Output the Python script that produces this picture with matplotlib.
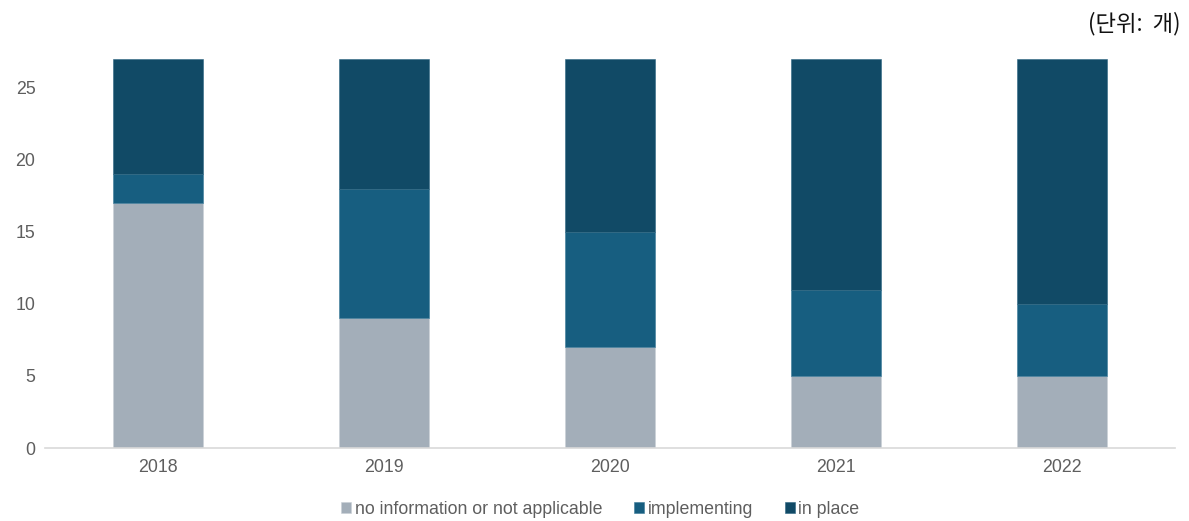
import numpy as np
import matplotlib.pyplot as plt

plt.rcParams['font.family'] = ['Liberation Sans', 'DejaVu Sans']

years = ['2018', '2019', '2020', '2021', '2022']
no_info = [17, 9, 7, 5, 5]
implementing = [2, 9, 8, 6, 5]
in_place = [8, 9, 12, 16, 17]

c_grey = '#A3AEB9'
c_impl = '#175E80'
c_place = '#114A66'

fig = plt.figure(figsize=(11.89, 5.21), dpi=100)
ax = fig.add_axes([0.038, 0.140, 0.950, 0.747])

x = np.arange(len(years))
w = 0.4
b1 = np.array(no_info)
b2 = b1 + np.array(implementing)
ax.bar(x, no_info, w, color=c_grey, edgecolor='#C9D0D6', linewidth=0.4, label='no information or not applicable')
ax.bar(x, implementing, w, bottom=b1, color=c_impl, edgecolor='#3C7A98', linewidth=0.4, label='implementing')
ax.bar(x, in_place, w, bottom=b2, color=c_place, edgecolor='#2E6682', linewidth=0.4, label='in place')

ax.set_xlim(-0.5, len(years) - 0.5)
ax.set_ylim(0, 27)
ax.set_yticks(range(0, 30, 5))
ax.set_xticks(x)
ax.set_xticklabels(years)
ax.tick_params(axis='both', length=0, colors='#5E5E5E', labelsize=12.8)
ax.tick_params(axis='x', pad=8)
ax.tick_params(axis='y', pad=7)
for s in ['top', 'right', 'left']:
    ax.spines[s].set_visible(False)
ax.spines['bottom'].set_color('#D9D9D9')
ax.spines['bottom'].set_linewidth(1.2)

leg = fig.legend(loc='center', bbox_to_anchor=(0.505, 0.022), ncol=3, frameon=False,
                 fontsize=12.8, handlelength=0.55, handleheight=0.55, handletextpad=0.2,
                 columnspacing=1.8)
for t in leg.get_texts():
    t.set_color('#5E5E5E')

fig.text(0.993, 0.955, '(단위:  개)', ha='right', va='center', fontsize=16,
         family=['Noto Sans CJK KR', 'DejaVu Sans'], color='#111111')

fig.savefig('out.png', dpi=100, facecolor='white')
